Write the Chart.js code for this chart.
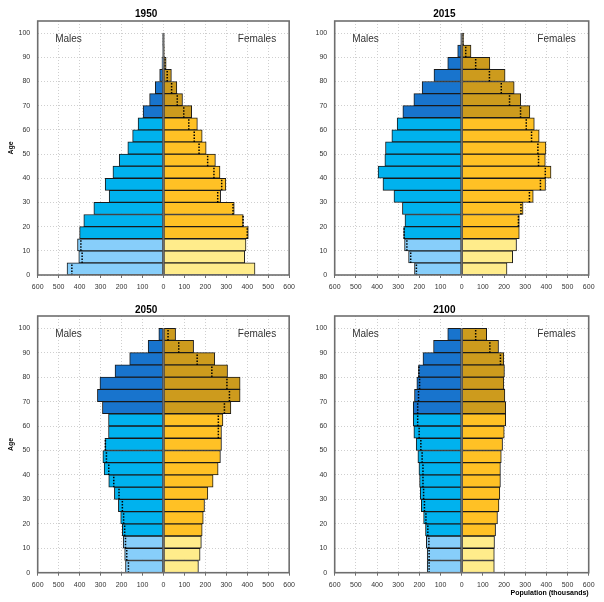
<!DOCTYPE html>
<html><head><meta charset="utf-8">
<script src="https://cdn.jsdelivr.net/npm/chart.js@4.4.1/dist/chart.umd.min.js"></script>
<style>
html,body{margin:0;padding:0;background:#fff;}
#wrap{position:relative;width:604px;height:602px;background:#fff;}
canvas{position:absolute;}
</style></head><body>
<div id="wrap">
<canvas id="c1950" width="300" height="300" style="left:0;top:0"></canvas>
<canvas id="c2015" width="304" height="300" style="left:300px;top:0"></canvas>
<canvas id="c2050" width="300" height="302" style="left:0;top:300px"></canvas>
<canvas id="c2100" width="304" height="302" style="left:300px;top:300px"></canvas>
</div>
<script>
// ---- data ----
const ageGroups = ['0-4','5-9','10-14','15-19','20-24','25-29','30-34','35-39','40-44','45-49',
  '50-54','55-59','60-64','65-69','70-74','75-79','80-84','85-89','90-94','95+'];
const ageStarts = [0,5,10,15,20,25,30,35,40,45,50,55,60,65,70,75,80,85,90,95];
const years = ['1950','2015','2050','2100'];
const populationTicks = [-600,-500,-400,-300,-200,-100,0,100,200,300,400,500,600];
const ageTicks = [0,10,20,30,40,50,60,70,80,90,100];

const males1950   = [460,404,410,400,380,332,259,278,241,211,170,147,121,97,66,39,18,7,1.5,0.3];
const females1950 = [437,388,394,405,381,338,273,298,270,248,204,185,162,135,91,64,38,13,3,0.5];
const males2015   = [223,251,270,274,268,280,320,372,395,363,360,330,305,278,226,187,131,66,19,4];
const females2015 = [214,241,259,272,272,290,338,396,422,395,398,366,343,322,279,248,205,133,44,9];
const males2050   = [181,185,192,196,204,215,234,261,283,289,279,262,262,291,315,303,231,161,73,22];
const females2050 = [167,175,181,185,190,196,212,237,261,272,277,277,284,322,366,366,306,245,144,58];
const males2100   = [163,163,167,171,180,191,196,199,202,207,215,226,229,229,223,212,204,183,133,66];
const females2100 = [154,154,155,160,169,176,180,183,183,187,193,201,208,208,204,199,202,199,174,118];

// ---- styles ----
const maleColors   = {young:'#87CEFA', work:'#00B2EE', old:'#1874CD'};
const femaleColors = {young:'#FFEC8B', work:'#FFC125', old:'#CD9B1D'};
function band(a){ return a < 15 ? 'young' : (a < 65 ? 'work' : 'old'); }

Chart.defaults.font.family = "'Liberation Sans', Arial, Helvetica, sans-serif";
Chart.defaults.color = '#333';
Chart.defaults.animation = false;

const framePlugin = {
  id: 'frame',
  afterDraw(chart) {
    const {ctx, chartArea: a} = chart;
    const y = chart.scales.y;
    ctx.save();
    ctx.fillStyle = '#333';
    ctx.font = "10px 'Liberation Sans', Arial, sans-serif";
    ctx.textBaseline = 'middle';
    const ty = y.getPixelForValue(97.5);
    ctx.textAlign = 'left';
    ctx.fillText('Males', a.left + 17.5, ty);
    ctx.textAlign = 'right';
    ctx.fillText('Females', a.right - 13, ty);
    ctx.strokeStyle = '#6e6e6e';
    ctx.lineWidth = 1.6;
    ctx.strokeRect(a.left, a.top, a.right - a.left, a.bottom - a.top);
    ctx.restore();
  }
};

function makeChart(id, title, males, females, opts) {
  const maleData = males.map((v, i) => ({x: -v, y: ageStarts[i] + 2.5}));
  const femaleData = females.map((v, i) => ({x: v, y: ageStarts[i] + 2.5}));
  const dots = [];
  males.forEach((m, i) => {
    const f = females[i];
    if (m === f) return;
    const x = m > f ? -f : m;
    dots.push({x: x, y: ageStarts[i]}, {x: x, y: ageStarts[i] + 5}, {x: null, y: null});
  });
  const barCommon = {type: 'bar', grouped: false, borderWidth: 1, borderColor: '#1a1a1a',
    borderSkipped: false, barPercentage: 1, categoryPercentage: 1, order: 2};
  return new Chart(document.getElementById(id), {
    type: 'bar',
    data: {
      datasets: [
        Object.assign({label: 'Males', data: maleData,
          backgroundColor: males.map((v, i) => maleColors[band(ageStarts[i])])}, barCommon),
        Object.assign({label: 'Females', data: femaleData,
          backgroundColor: females.map((v, i) => femaleColors[band(ageStarts[i])])}, barCommon),
        {type: 'line', label: 'excess', data: dots, borderColor: '#000', borderWidth: 1.5,
          borderDash: [1.5, 1.5], pointRadius: 0, spanGaps: false, fill: false, order: 1},
        {type: 'line', label: 'zero', data: [{x: 0, y: ageTicks[0]}, {x: 0, y: ageTicks[ageTicks.length - 1]}],
          borderColor: '#6e6e6e', borderWidth: 2, pointRadius: 0, fill: false, order: 0}
      ]
    },
    options: {
      indexAxis: 'y',
      responsive: false,
      animation: false,
      layout: {padding: {top: 0, right: opts.rightPad, bottom: 0, left: 0}},
      plugins: {
        legend: {display: false},
        tooltip: {enabled: false},
        title: {display: true, text: title, color: '#000',
          font: {size: 10, weight: 'bold'}, padding: {top: opts.titleTop, bottom: opts.titleBottom}}
      },
      scales: {
        x: {
          type: 'linear', min: populationTicks[0], max: populationTicks[populationTicks.length - 1],
          offset: false,
          afterFit: s => { s.height = opts.xHeight; },
          afterBuildTicks: s => { s.ticks = populationTicks.map(v => ({value: v})); },
          ticks: {font: {size: 7}, color: '#333', padding: 5, maxRotation: 0, autoSkip: false,
            callback: v => String(Math.abs(v))},
          grid: {offset: false, color: '#cfcfcf', lineWidth: 1, drawTicks: true, tickLength: 3,
            tickColor: '#6e6e6e', tickWidth: 1, tickBorderDash: []},
          border: {display: false, dash: [1, 2]},
          title: {display: !!opts.xTitle, text: opts.xTitle || '', align: 'end', color: '#000',
            font: {size: 7, weight: 'bold'}, padding: {top: 0, bottom: 5}}
        },
        y: {
          type: 'linear', min: 0, max: 105,
          offset: false,
          afterFit: s => { s.width = opts.yWidth; },
          afterBuildTicks: s => { s.ticks = ageTicks.map(v => ({value: v})); },
          ticks: {font: {size: 7}, color: '#333', padding: 7.5, autoSkip: false},
          grid: {offset: false, color: '#cfcfcf', lineWidth: 1, drawTicks: false},
          border: {display: false, dash: [1, 2]},
          title: {display: !!opts.yTitle, text: opts.yTitle || '', color: '#000',
            font: {size: 7, weight: 'bold'}, padding: {top: 6.8, bottom: 0}}
        }
      }
    },
    plugins: [framePlugin]
  });
}

makeChart('c1950', years[0], males1950, females1950,
  {rightPad: 7.7, yWidth: 37.7, xHeight: 25, titleTop: 8, titleBottom: 1, yTitle: 'Age'});
makeChart('c2015', years[1], males2015, females2015,
  {rightPad: 15.3, yWidth: 34.7, xHeight: 25, titleTop: 8, titleBottom: 1});
makeChart('c2050', years[2], males2050, females2050,
  {rightPad: 7.7, yWidth: 37.7, xHeight: 29.3, titleTop: 4, titleBottom: 0, yTitle: 'Age'});
makeChart('c2100', years[3], males2100, females2100,
  {rightPad: 15.3, yWidth: 34.7, xHeight: 29.3, titleTop: 4, titleBottom: 0, xTitle: 'Population (thousands)'});
</script>
</body></html>
